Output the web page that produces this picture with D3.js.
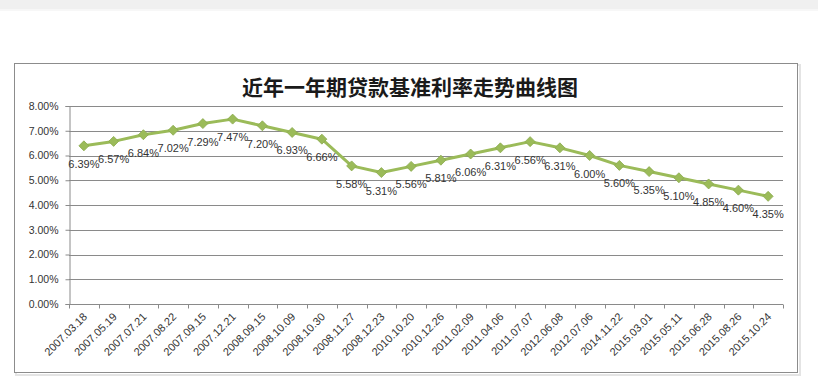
<!DOCTYPE html>
<html>
<head>
<meta charset="utf-8">
<script src="https://cdn.jsdelivr.net/npm/d3@7"></script>
<style>
  body { margin: 0; background: #fff; }
  svg { display: block; }
</style>
</head>
<body>
<script>
// chart data
var title = "近年一年期贷款基准利率走势曲线图";
var dates = ["2007.03.18", "2007.05.19", "2007.07.21", "2007.08.22", "2007.09.15", "2007.12.21",
  "2008.09.15", "2008.10.09", "2008.10.30", "2008.11.27", "2008.12.23", "2010.10.20",
  "2010.12.26", "2011.02.09", "2011.04.06", "2011.07.07", "2012.06.08", "2012.07.06",
  "2014.11.22", "2015.03.01", "2015.05.11", "2015.06.28", "2015.08.26", "2015.10.24"];
var rates = [6.39, 6.57, 6.84, 7.02, 7.29, 7.47, 7.20, 6.93, 6.66, 5.58, 5.31, 5.56,
  5.81, 6.06, 6.31, 6.56, 6.31, 6.00, 5.60, 5.35, 5.10, 4.85, 4.60, 4.35];
var yTicks = [0, 1, 2, 3, 4, 5, 6, 7, 8];

var W = 818, H = 384;
var margin = { top: 106, right: 35, bottom: 80, left: 69 },
  width = 783 - margin.left,
  height = 304 - margin.top;

var svg = d3.select("body").append("svg")
  .attr("width", W)
  .attr("height", H);

// gray strip at the top of the page
svg.append("rect").attr("x", 0).attr("y", 0).attr("width", W).attr("height", 9).attr("fill", "#f0f0f0");
svg.append("rect").attr("x", 0).attr("y", 9).attr("width", W).attr("height", 2).attr("fill", "#f7f7f7");

// chart frame with a faint shadow
svg.append("rect").attr("x", 16).attr("y", 65).attr("width", 784).attr("height", 310)
  .attr("fill", "none").attr("stroke", "#e4e4e4").attr("stroke-width", 2);
svg.append("rect").attr("x", 14.5).attr("y", 63.5).attr("width", 783).attr("height", 309)
  .attr("fill", "#fff").attr("stroke", "#8c8c8c").attr("stroke-width", 1);

svg.append("text")
  .attr("x", 410).attr("y", 95)
  .attr("text-anchor", "middle")
  .attr("font-family", "'Noto Sans CJK SC', sans-serif")
  .attr("font-size", 21).attr("font-weight", "bold")
  .attr("fill", "#1a1a1a")
  .text(title);

var g = svg.append("g").attr("transform", "translate(" + margin.left + "," + margin.top + ")");

var x = d3.scaleBand().domain(dates).range([0, width]);
var y = d3.scaleLinear().domain([0, 8]).range([height, 0]);

// gridlines
g.append("g").selectAll("line").data(yTicks).join("line")
  .attr("x1", 0).attr("x2", width)
  .attr("y1", function (d) { return Math.round(y(d)) + 0.5; })
  .attr("y2", function (d) { return Math.round(y(d)) + 0.5; })
  .attr("stroke", "#8a8a8a").attr("stroke-width", 1);

// y axis
var yAxis = g.append("g")
  .attr("transform", "translate(0.5,0)")
  .call(d3.axisLeft(y).tickValues(yTicks).tickSize(4).tickPadding(7)
    .tickFormat(function (d) { return d.toFixed(2) + "%"; }));
yAxis.select(".domain").attr("stroke", "#8a8a8a");
yAxis.selectAll(".tick line").attr("stroke", "#8a8a8a");
yAxis.selectAll("text")
  .attr("font-family", "'Liberation Sans', Arial, sans-serif")
  .attr("font-size", 10.5).attr("fill", "#333");

// x axis: ticks between categories
var xAxisG = g.append("g").attr("transform", "translate(0," + (Math.round(height) + 0.5) + ")");
xAxisG.append("line").attr("x1", 0).attr("x2", width).attr("stroke", "#8a8a8a");
xAxisG.selectAll("line.tk").data(d3.range(dates.length + 1)).join("line")
  .attr("class", "tk")
  .attr("x1", function (i) { return Math.round(i * x.step()) + 0.5; })
  .attr("x2", function (i) { return Math.round(i * x.step()) + 0.5; })
  .attr("y1", 0).attr("y2", 4)
  .attr("stroke", "#8a8a8a");
xAxisG.selectAll("text").data(dates).join("text")
  .attr("transform", function (d) {
    return "translate(" + (x(d) + x.bandwidth() / 2 + 4) + ",13) rotate(-45)";
  })
  .attr("text-anchor", "end")
  .attr("font-family", "'Liberation Sans', Arial, sans-serif")
  .attr("font-size", 11).attr("fill", "#333")
  .text(function (d) { return d; });

// line
var cx = function (d, i) { return x(dates[i]) + x.bandwidth() / 2; };
var line = d3.line()
  .x(function (d, i) { return cx(d, i); })
  .y(function (d) { return y(d); });

g.append("path")
  .datum(rates)
  .attr("d", line)
  .attr("fill", "none")
  .attr("stroke", "#9bbb59")
  .attr("stroke-width", 3)
  .attr("stroke-linejoin", "round");

// diamond markers
g.append("g").selectAll("path").data(rates).join("path")
  .attr("transform", function (d, i) { return "translate(" + cx(d, i) + "," + y(d) + ")"; })
  .attr("d", "M0,-5L5,0L0,5L-5,0Z")
  .attr("fill", "#9bbb59")
  .attr("stroke", "#8aa94d").attr("stroke-width", 0.8);

// data labels below points
g.append("g").selectAll("text").data(rates).join("text")
  .attr("x", function (d, i) { return cx(d, i); })
  .attr("y", function (d) { return y(d) + 22; })
  .attr("text-anchor", "middle")
  .attr("font-family", "'Liberation Sans', Arial, sans-serif")
  .attr("font-size", 11).attr("fill", "#333")
  .text(function (d) { return d.toFixed(2) + "%"; });
</script>
</body>
</html>
